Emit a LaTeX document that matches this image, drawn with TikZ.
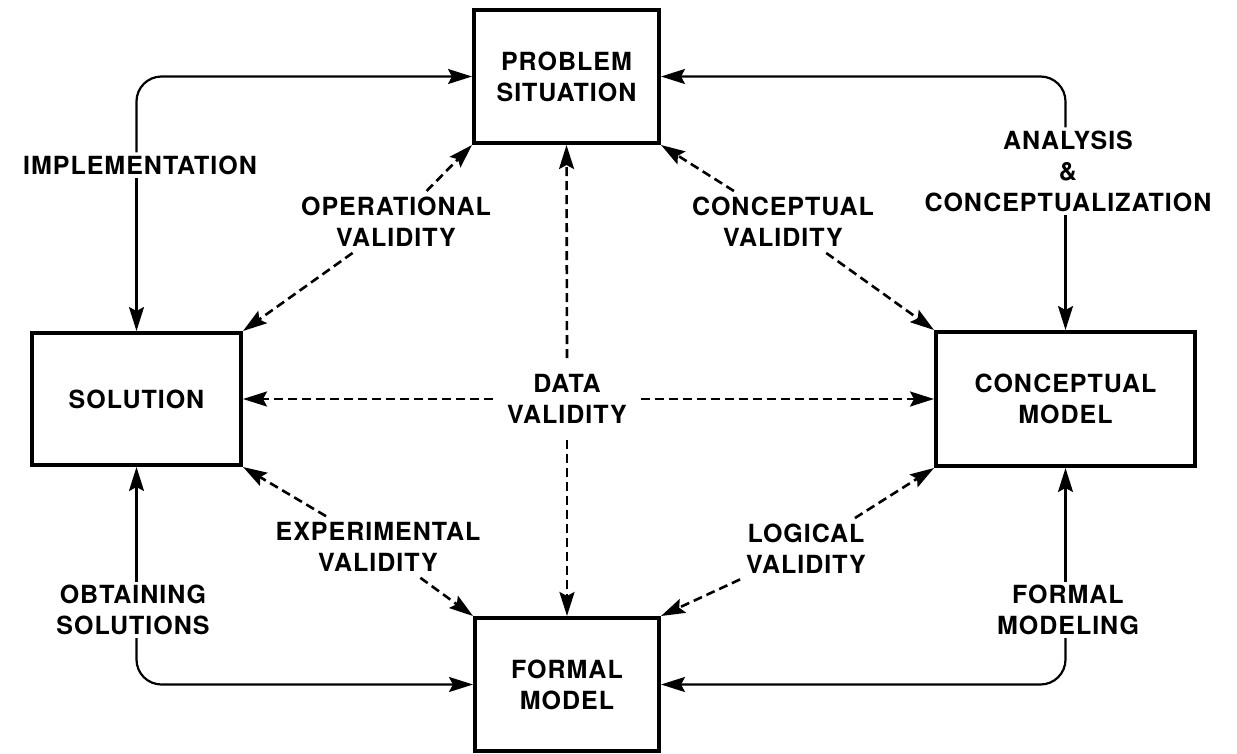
\documentclass[tikz,border=0pt]{standalone}
\usepackage{fontspec}
\setmainfont{TeX Gyre Heros}[LetterSpace=4]
\usetikzlibrary{arrows.meta}
\begin{document}
\begin{tikzpicture}[x=1pt,y=-1pt,
  box/.style={draw, line width=4pt, align=center, inner sep=0pt},
  lbl/.style={align=center, inner sep=3pt},
  conn/.style={line width=2.2pt, -{Stealth[length=24pt,width=15pt,inset=4pt]}},
  dconn/.style={conn, line width=2.6pt, dash pattern=on 9pt off 5pt},
  font=\fontsize{25}{31}\selectfont\bfseries]
\useasboundingbox (0,0) rectangle (1237,753);
% boxes
\node[box, minimum width=185pt, minimum height=133pt] (ps) at (566.5,76.5) {PROBLEM\\SITUATION};
\node[box, minimum width=209pt, minimum height=132pt] (sol) at (136.5,399) {SOLUTION};
\node[box, minimum width=259pt, minimum height=134pt] (cm) at (1065.5,399) {CONCEPTUAL\\MODEL};
\node[box, minimum width=184pt, minimum height=133pt] (fm) at (567,684.5) {FORMAL\\MODEL};
% loop labels
\node[lbl] (impl) at (140,165) {IMPLEMENTATION};
\node[lbl] (anl) at (1068,171) {ANALYSIS\\\&\\CONCEPTUALIZATION};
\node[lbl] (obt) at (133,610) {OBTAINING\\SOLUTIONS};
\node[lbl] (fml) at (1068,610) {FORMAL\\MODELING};
% validity labels
\node[lbl, inner sep=6pt] (opv) at (396,222) {OPERATIONAL\\VALIDITY};
\node[lbl, inner sep=6pt] (cpv) at (783,222) {CONCEPTUAL\\VALIDITY};
\node[lbl, inner sep=6pt] (exv) at (378,547) {EXPERIMENTAL\\VALIDITY};
\node[lbl, inner sep=6pt] (lgv) at (806,549) {LOGICAL\\VALIDITY};
\node[lbl, inner xsep=14pt, inner ysep=16pt] (dv) at (567,399) {DATA\\VALIDITY};
% solid loops
\draw[conn, rounded corners=25pt] (impl.north -| sol.north) |- (ps.west);
\draw[conn] (impl.south -| sol.north) -- (sol.north);
\draw[conn, rounded corners=25pt] (anl.north -| cm.north) |- (ps.east);
\draw[conn] (anl.south -| cm.north) -- (cm.north);
\draw[conn] (obt.north -| sol.south) -- (sol.south);
\draw[conn, rounded corners=25pt] (obt.south -| sol.south) |- (fm.west);
\draw[conn] (fml.north -| cm.south) -- (cm.south);
\draw[conn, rounded corners=25pt] (fml.south -| cm.south) |- (fm.east);
% dashed validity connectors
\draw[dconn] (opv) -- (ps.south west);
\draw[dconn] (opv) -- (sol.north east);
\draw[dconn] (cpv) -- (ps.south east);
\draw[dconn] (cpv) -- (cm.north west);
\draw[dconn] (exv) -- (sol.south east);
\draw[dconn] (exv) -- (fm.north west);
\draw[dconn] (lgv) -- (cm.south west);
\draw[dconn] (lgv) -- (fm.north east);
\draw[dconn] (dv.north) -- (ps.south);
\draw[dconn] (dv.south) -- (fm.north);
\draw[dconn] (dv.west) -- (sol.east);
\draw[dconn] (dv.east) -- (cm.west);
\end{tikzpicture}
\end{document}
